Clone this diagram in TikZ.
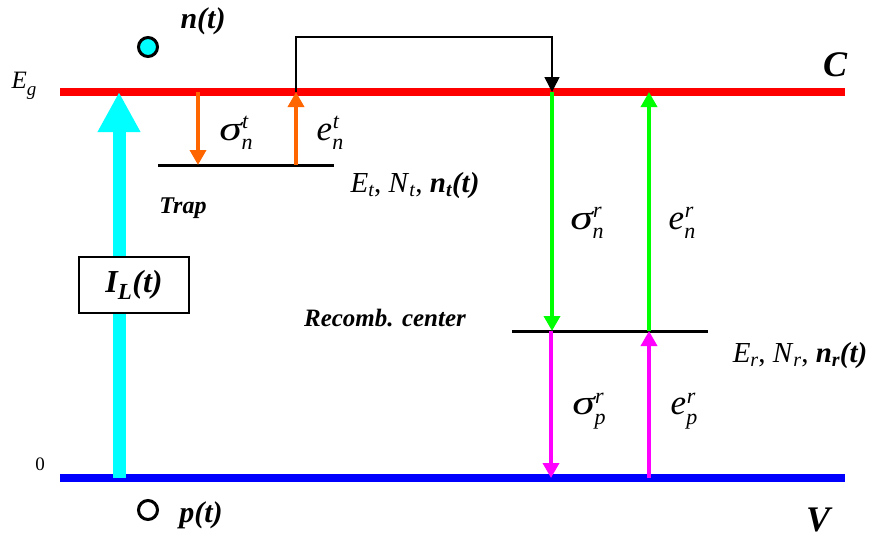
\documentclass[tikz,border=0pt]{standalone}
\usepackage{fontspec}
\setmainfont{Liberation Serif}
\usepackage{graphicx}
\usetikzlibrary{arrows.meta}
\definecolor{orng}{RGB}{255,102,0}
\definecolor{grn}{RGB}{0,255,0}
\definecolor{mag}{RGB}{255,0,255}
\definecolor{cyn}{RGB}{0,255,255}
\newcommand{\stk}[3]{\textit{#1}\makebox[0pt][l]{\hspace{0.5pt}\raisebox{0.33em}{\fontsize{22}{22}\selectfont\textit{#3}}}\raisebox{-0.28em}{\fontsize{22}{22}\selectfont\textit{#2}}}
\newcommand{\sg}{\scalebox{1.3}[1]{σ}}
\newcommand{\fs}[1]{\fontsize{#1}{#1}\selectfont}
\newcommand{\lsub}[1]{\raisebox{-0.12em}{\fs{20}\textit{#1}}}
\begin{document}
\begin{tikzpicture}[x=1pt,y=-1pt,
  band/.style={line width=8pt},
  level/.style={line width=3pt},
  trans/.style={line width=3.5pt,-{Triangle[width=16pt,length=15pt]}},
  lbl/.style={inner sep=0pt,font=\fs{35}},
  bi/.style={inner sep=0pt,font=\bfseries\itshape},
  carrier/.style={circle,draw=black,line width=3pt,minimum size=19pt,inner sep=0pt}]
\useasboundingbox (0,0) rectangle (877,542);
% band edges
\coordinate (cL) at (60,92); \coordinate (cR) at (845,92);
\coordinate (vL) at (60,478); \coordinate (vR) at (845,478);
\draw[band,red] (cL) -- (cR);
\draw[band,blue] (vL) -- (vR);
% levels
\coordinate (tL) at (158,165); \coordinate (tR) at (334,165);
\coordinate (rL) at (512,331); \coordinate (rR) at (708,331);
\draw[level] (tL) -- (tR);
\draw[level] (rL) -- (rR);
% generation arrow
\coordinate (gB) at (119,478); \coordinate (gT) at (119,92);
\draw[cyn,line width=13pt,-{Triangle[width=40pt,length=40pt]}] (gB) -- (gT);
\node[draw,line width=1.5pt,fill=white,minimum width=110pt,minimum height=56pt,inner sep=0pt,font=\bfseries\itshape\fs{32}] (IL) at (134,285) {I\textsubscript{\fs{23}L}(t)};
% trap transitions
\coordinate (a1t) at (198,92); \coordinate (a1b) at (198,165);
\coordinate (a2t) at (296,92); \coordinate (a2b) at (296,165);
\draw[trans,orng] (a1t) -- (a1b);
\draw[trans,orng] (a2b) -- (a2t);
% transfer bracket
\coordinate (b1) at (296,37); \coordinate (b2) at (552,37); \coordinate (b3) at (552,92);
\draw[line width=1.5pt,-{Triangle[width=15pt,length=15pt]}] (a2t) -- (b1) -- (b2) -- (b3);
% recombination transitions
\coordinate (g1t) at (552,92); \coordinate (g1b) at (552,331);
\coordinate (g2t) at (649,92); \coordinate (g2b) at (649,331);
\draw[trans,grn] (g1t) -- (g1b);
\draw[trans,grn] (g2b) -- (g2t);
\coordinate (m1t) at (551,331); \coordinate (m1b) at (551,478);
\coordinate (m2t) at (649,331); \coordinate (m2b) at (649,478);
\draw[trans,mag] (m1t) -- (m1b);
\draw[trans,mag] (m2b) -- (m2t);
% carriers
\node[carrier,fill=cyn] (nc) at (148,47) {};
\node[carrier,fill=white] (pc) at (148,510) {};
\node[bi,font=\bfseries\itshape\fs{30}] (nl) at (203,21) {n(t)};
\node[bi,font=\bfseries\itshape\fs{30}] (pl) at (201,515) {p(t)};
% labels
\node[inner sep=0pt,font=\fs{25}] (Eg) at (24,86) {\textit{E}\raisebox{-0.3em}{\fs{19}\textit{g}}};
\node[inner sep=0pt,font=\fs{19}] (zero) at (40,464) {0};
\node[bi,font=\bfseries\itshape\fs{36}] (C) at (835,65) {C};
\node[bi,font=\bfseries\itshape\fs{36}] (V) at (818,520) {V};
\node[bi,font=\bfseries\itshape\fs{24}] (trap) at (183,208) {Trap};
\node[bi,font=\bfseries\itshape\fs{25}] (rec) at (385,318) {Recomb. center};
\node[lbl] (snt) at (236,133) {\stk{\sg}{n}{t}};
\node[lbl] (ent) at (330,133) {\stk{e}{n}{t}};
\node[lbl] (snr) at (587,223) {\stk{\sg}{n}{r}};
\node[lbl] (enr) at (682,223) {\stk{e}{n}{r}};
\node[lbl] (spr) at (589,411) {\stk{\sg}{p}{r}};
\node[lbl] (epr) at (684,411) {\stk{e}{p}{r}};
\node[inner sep=0pt,font=\fs{29}] (tl) at (415,186) {\textit{E}\lsub{t}, \textit{N}\lsub{t}, \textbf{\textit{n}\lsub{\bfseries t}\textit{(t)}}};
\node[inner sep=0pt,font=\fs{29}] (rl) at (800,356) {\textit{E}\lsub{r}, \textit{N}\lsub{r}, \textbf{\textit{n}\lsub{\bfseries r}\textit{(t)}}};
\end{tikzpicture}
\end{document}
